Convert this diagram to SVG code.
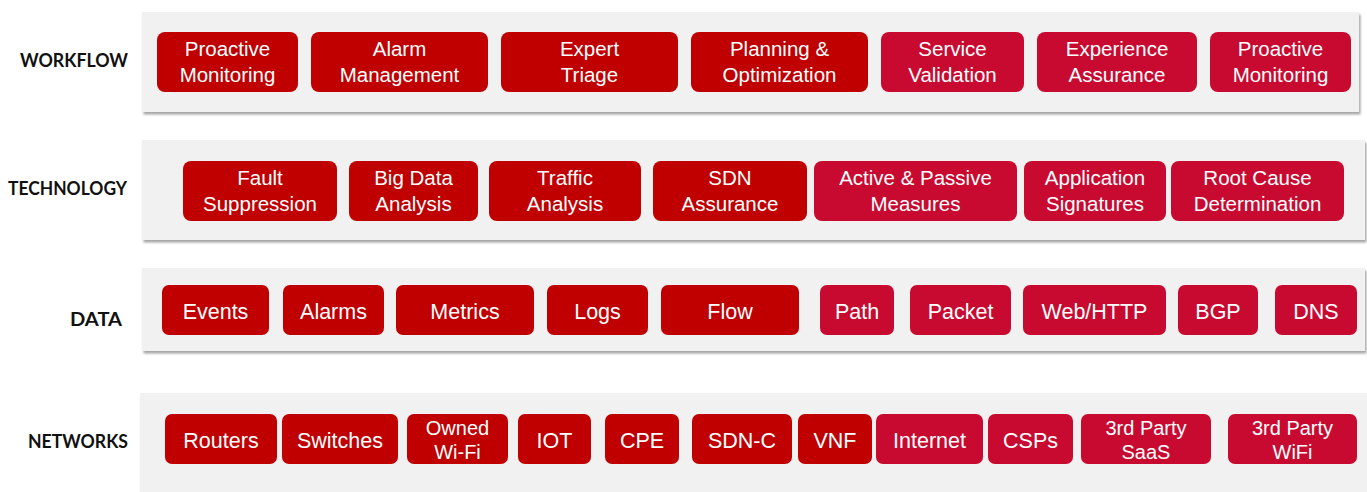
<svg xmlns="http://www.w3.org/2000/svg" width="1367" height="492" viewBox="0 0 1367 492">
  <defs>
    <filter id="panelShadow" x="-2%" y="-10%" width="104%" height="125%">
      <feDropShadow dx="1.5" dy="2.5" stdDeviation="1.2" flood-color="#000" flood-opacity="0.35"/>
    </filter>
  </defs>
  <style>
    .panel { fill: #f1f1f1; filter: url(#panelShadow); }
    .dark rect { fill: #c00000; }
    .crim rect { fill: #c90a30; }
    text { font-family: "Liberation Sans", Arial, sans-serif; fill: #ffffff; text-anchor: middle; font-size: 20.5px; }
    .one text { font-size: 21.5px; }
    text.lbl { font-family: Lato, "Open Sans", sans-serif; font-weight: 700; fill: #111111; text-anchor: start; font-size: 19px; }
  </style>
  <rect width="1367" height="492" fill="#ffffff"/>

  <!-- layer bands -->
  <g id="bands">
    <rect class="panel" x="142" y="12" width="1217" height="100"/>
    <rect class="panel" x="142" y="140" width="1223" height="100"/>
    <rect class="panel" x="142" y="268" width="1223" height="83"/>
    <rect class="panel" x="140" y="393" width="1240" height="110"/>
  </g>

  <!-- layer labels -->
  <g id="labels">
    <text class="lbl" x="20" y="67" textLength="108" lengthAdjust="spacingAndGlyphs">WORKFLOW</text>
    <text class="lbl" x="8" y="195" textLength="119" lengthAdjust="spacingAndGlyphs">TECHNOLOGY</text>
    <text class="lbl" x="70" y="326" textLength="52" lengthAdjust="spacingAndGlyphs">DATA</text>
    <text class="lbl" x="28" y="448" textLength="100" lengthAdjust="spacingAndGlyphs">NETWORKS</text>
  </g>

  <!-- workflow row -->
  <g id="wf-proactive-1" class="dark"><rect x="157" y="32" width="141" height="60" rx="8"/><text x="227.5" y="56">Proactive</text><text x="227.5" y="82">Monitoring</text></g>
  <g id="wf-alarm" class="dark"><rect x="311" y="32" width="177" height="60" rx="8"/><text x="399.5" y="56">Alarm</text><text x="399.5" y="82">Management</text></g>
  <g id="wf-triage" class="dark"><rect x="501" y="32" width="177" height="60" rx="8"/><text x="589.5" y="56">Expert</text><text x="589.5" y="82">Triage</text></g>
  <g id="wf-planning" class="dark"><rect x="691" y="32" width="177" height="60" rx="8"/><text x="779.5" y="56">Planning &amp;</text><text x="779.5" y="82">Optimization</text></g>
  <g id="wf-validation" class="crim"><rect x="881" y="32" width="143" height="60" rx="8"/><text x="952.5" y="56">Service</text><text x="952.5" y="82">Validation</text></g>
  <g id="wf-experience" class="crim"><rect x="1037" y="32" width="160" height="60" rx="8"/><text x="1117" y="56">Experience</text><text x="1117" y="82">Assurance</text></g>
  <g id="wf-proactive-2" class="crim"><rect x="1210" y="32" width="141" height="60" rx="8"/><text x="1280.5" y="56">Proactive</text><text x="1280.5" y="82">Monitoring</text></g>

  <!-- technology row -->
  <g id="tech-fault" class="dark"><rect x="183" y="161" width="154" height="60" rx="8"/><text x="260" y="185">Fault</text><text x="260" y="211">Suppression</text></g>
  <g id="tech-bigdata" class="dark"><rect x="349" y="161" width="129" height="60" rx="8"/><text x="413.5" y="185">Big Data</text><text x="413.5" y="211">Analysis</text></g>
  <g id="tech-traffic" class="dark"><rect x="489" y="161" width="152" height="60" rx="8"/><text x="565" y="185">Traffic</text><text x="565" y="211">Analysis</text></g>
  <g id="tech-sdn" class="dark"><rect x="653" y="161" width="154" height="60" rx="8"/><text x="730" y="185">SDN</text><text x="730" y="211">Assurance</text></g>
  <g id="tech-active" class="crim"><rect x="814" y="161" width="203" height="60" rx="8"/><text x="915.5" y="185">Active &amp; Passive</text><text x="915.5" y="211">Measures</text></g>
  <g id="tech-signatures" class="crim"><rect x="1024" y="161" width="142" height="60" rx="8"/><text x="1095" y="185">Application</text><text x="1095" y="211">Signatures</text></g>
  <g id="tech-rootcause" class="crim"><rect x="1171" y="161" width="173" height="60" rx="8"/><text x="1257.5" y="185">Root Cause</text><text x="1257.5" y="211">Determination</text></g>

  <!-- data row -->
  <g class="one">
    <g id="data-events" class="dark"><rect x="162" y="285" width="107" height="50" rx="7"/><text x="215.5" y="319">Events</text></g>
    <g id="data-alarms" class="dark"><rect x="283" y="285" width="101" height="50" rx="7"/><text x="333.5" y="319">Alarms</text></g>
    <g id="data-metrics" class="dark"><rect x="396" y="285" width="138" height="50" rx="7"/><text x="465" y="319">Metrics</text></g>
    <g id="data-logs" class="dark"><rect x="547" y="285" width="101" height="50" rx="7"/><text x="597.5" y="319">Logs</text></g>
    <g id="data-flow" class="dark"><rect x="661" y="285" width="138" height="50" rx="7"/><text x="730" y="319">Flow</text></g>
    <g id="data-path" class="crim"><rect x="820" y="285" width="74" height="50" rx="7"/><text x="857" y="319">Path</text></g>
    <g id="data-packet" class="crim"><rect x="910" y="285" width="101" height="50" rx="7"/><text x="960.5" y="319">Packet</text></g>
    <g id="data-web" class="crim"><rect x="1023" y="285" width="143" height="50" rx="7"/><text x="1094.5" y="319">Web/HTTP</text></g>
    <g id="data-bgp" class="crim"><rect x="1178" y="285" width="80" height="50" rx="7"/><text x="1218" y="319">BGP</text></g>
    <g id="data-dns" class="crim"><rect x="1275" y="285" width="82" height="50" rx="7"/><text x="1316" y="319">DNS</text></g>
  </g>

  <!-- networks row -->
  <g class="one">
    <g id="net-routers" class="dark"><rect x="165" y="414" width="112" height="50" rx="7"/><text x="221" y="448">Routers</text></g>
    <g id="net-switches" class="dark"><rect x="282" y="414" width="116" height="50" rx="7"/><text x="340" y="448">Switches</text></g>
    <g id="net-owned-wifi" class="dark"><rect x="407" y="414" width="101" height="50" rx="7"/><text x="457.5" y="435" style="font-size:20px">Owned</text><text x="457.5" y="459" style="font-size:20px">Wi-Fi</text></g>
    <g id="net-iot" class="dark"><rect x="518" y="414" width="73" height="50" rx="7"/><text x="554.5" y="448">IOT</text></g>
    <g id="net-cpe" class="dark"><rect x="605" y="414" width="74" height="50" rx="7"/><text x="642" y="448">CPE</text></g>
    <g id="net-sdnc" class="dark"><rect x="692" y="414" width="100" height="50" rx="7"/><text x="742" y="448">SDN-C</text></g>
    <g id="net-vnf" class="dark"><rect x="798" y="414" width="74" height="50" rx="7"/><text x="835" y="448">VNF</text></g>
    <g id="net-internet" class="crim"><rect x="876" y="414" width="107" height="50" rx="7"/><text x="929.5" y="448">Internet</text></g>
    <g id="net-csps" class="crim"><rect x="988" y="414" width="85" height="50" rx="7"/><text x="1030.5" y="448">CSPs</text></g>
    <g id="net-saas" class="crim"><rect x="1081" y="414" width="130" height="50" rx="7"/><text x="1146" y="435" style="font-size:20px">3rd Party</text><text x="1146" y="459" style="font-size:20px">SaaS</text></g>
    <g id="net-wifi" class="crim"><rect x="1228" y="414" width="129" height="50" rx="7"/><text x="1292.5" y="435" style="font-size:20px">3rd Party</text><text x="1292.5" y="459" style="font-size:20px">WiFi</text></g>
  </g>

  <!-- no connectors between layers -->
  <g id="connectors"/>
</svg>
